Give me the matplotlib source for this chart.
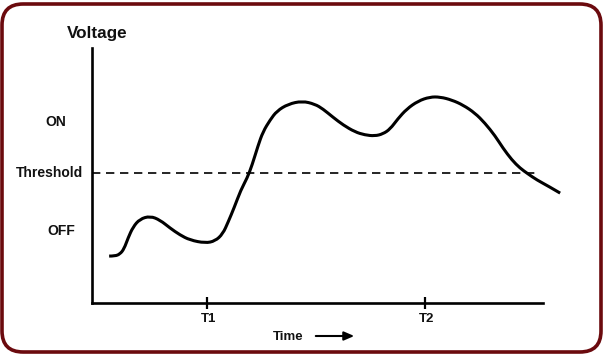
import matplotlib.pyplot as plt
from matplotlib.patches import FancyBboxPatch, FancyArrowPatch, PathPatch
from matplotlib.path import Path

W, H = 603, 354

# curve (time, voltage)
time = [0.38, 0.51, 0.62, 0.71, 0.80, 0.91, 1.06, 1.29, 1.51, 1.73, 1.95, 2.17,
        2.51, 2.73, 2.90, 3.02, 3.15, 3.30, 3.44, 3.55, 3.68, 3.79, 3.95, 4.10,
        4.35, 4.66, 4.94, 5.12, 5.34, 5.57, 5.83, 6.05, 6.27, 6.45, 6.61, 6.78,
        6.98, 7.23, 7.49, 7.72, 7.98, 8.23, 8.49, 8.71, 8.94, 9.11, 9.31, 9.49,
        9.67, 9.87, 10.11, 10.38]
voltage = [1.84, 1.84, 1.92, 2.12, 2.55, 2.98, 3.29, 3.41, 3.25, 2.94, 2.67, 2.47,
           2.35, 2.43, 2.71, 3.18, 3.73, 4.43, 4.90, 5.41, 6.16, 6.71, 7.18, 7.53,
           7.80, 7.92, 7.80, 7.61, 7.29, 6.98, 6.71, 6.59, 6.55, 6.63, 6.82, 7.22,
           7.61, 7.92, 8.08, 8.08, 7.96, 7.76, 7.45, 7.06, 6.55, 6.08, 5.61, 5.29,
           5.06, 4.82, 4.59, 4.31]
threshold = 5.1
tick_pos = [2.55, 7.38]
tick_labels = ["T1", "T2"]

plt.rcParams['font.family'] = ['Liberation Sans', 'DejaVu Sans']

def fx(px):
    return px / W

def fy(py):
    return 1 - py / H

fig = plt.figure(figsize=(W / 100, H / 100), dpi=100)

# rounded maroon frame, drawn behind the axes
frame = FancyBboxPatch((fx(2), fy(352)), fx(599), 348 / H,
                       boxstyle="round,pad=0,rounding_size=0.035",
                       transform=fig.transFigure, facecolor="white",
                       edgecolor="#6b0a0e", linewidth=2.6, mutation_aspect=W / H,
                       zorder=-10)
fig.patches.append(frame)

ax = fig.add_axes([fx(92), fy(303), 480 / W, 255 / H])
ax.set_zorder(5)
ax.set_xlim(0, 480 / 45.1)
ax.set_ylim(0, 10)
ax.patch.set_alpha(0)
for s in ["top", "right"]:
    ax.spines[s].set_visible(False)
for s in ["left", "bottom"]:
    ax.spines[s].set_linewidth(1.9)
ax.spines["bottom"].set_bounds(0, 451 / 45.1)

# smooth curve: read points used as quadratic bezier control points
pts = list(zip(time, voltage))
verts = [pts[0]]
codes = [Path.MOVETO]
for i in range(1, len(pts) - 1):
    mid = ((pts[i][0] + pts[i + 1][0]) / 2, (pts[i][1] + pts[i + 1][1]) / 2)
    if i == len(pts) - 2:
        mid = pts[-1]
    verts += [pts[i], mid]
    codes += [Path.CURVE3, Path.CURVE3]
ax.add_patch(PathPatch(Path(verts, codes), facecolor="none", edgecolor="black",
                       lw=2.2, capstyle="butt", clip_on=False))

ax.plot([0, 9.93], [threshold, threshold], color="black", lw=1.2, dashes=(5, 3.4))

ax.set_yticks([])
ax.set_xticks(tick_pos)
ax.set_xticklabels([])
ax.tick_params(axis="x", direction="inout", length=8.5, width=1.6)

bold = dict(fontweight="bold", color="#111111")
fig.text(fx(97), fy(38), "Voltage", ha="center", va="baseline", fontsize=12.3, **bold)
fig.text(fx(56), fy(126), "ON", ha="center", va="baseline", fontsize=10, **bold)
fig.text(fx(83), fy(177), "Threshold", ha="right", va="baseline", fontsize=10, **bold)
fig.text(fx(61), fy(235), "OFF", ha="center", va="baseline", fontsize=10, **bold)
for p, lab in zip(tick_pos, tick_labels):
    fig.text(fx(92 + p * 45.1 + 2), fy(322), lab, ha="center", va="baseline", fontsize=9.5, **bold)
fig.text(fx(273), fy(340), "Time", ha="left", va="baseline", fontsize=9.5, **bold)
arrow = FancyArrowPatch((fx(313), fy(336)), (fx(357), fy(336)), transform=fig.transFigure,
                        arrowstyle="-|>,head_length=6,head_width=2.6", color="black", lw=1.5)
fig.patches.append(arrow)

fig.savefig("out.png", dpi=100)
